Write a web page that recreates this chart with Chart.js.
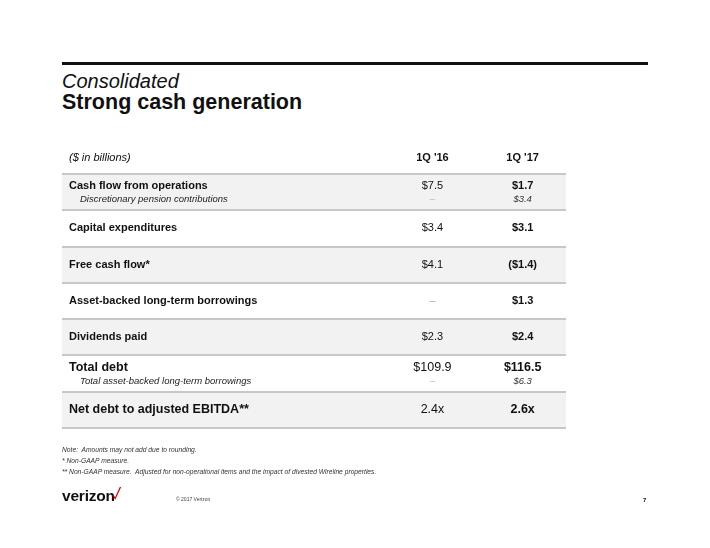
<!DOCTYPE html>
<html>
<head>
<meta charset="utf-8">
<script src="https://cdn.jsdelivr.net/npm/chart.js@4.4.1/dist/chart.umd.min.js"></script>
<style>
  body { margin: 0; background: #fff; font-family: "Liberation Sans", Arial, sans-serif; color: #111; }
  #wrap { position: relative; width: 710px; height: 548px; overflow: hidden; }
  #table { position: absolute; left: 0; top: 0; }
  .t { position: absolute; line-height: 1; white-space: pre; }
  #rule { position: absolute; left: 62px; top: 62px; width: 586px; height: 3px; background: #111; }
</style>
</head>
<body>
<div id="wrap">
  <div id="rule"></div>
  <div class="t" style="left:62px;top:71px;font-size:20px;font-style:italic;">Consolidated</div>
  <div class="t" style="left:62px;top:92px;font-size:21.5px;font-weight:bold;">Strong cash generation</div>
  <canvas id="table" width="710" height="548"></canvas>
  <div class="t" style="left:62px;top:447px;font-size:6.7px;font-style:italic;color:#333;">Note:  Amounts may not add due to rounding.</div>
  <div class="t" style="left:62px;top:458px;font-size:6.7px;font-style:italic;color:#333;">* Non-GAAP measure.</div>
  <div class="t" style="left:62px;top:469px;font-size:6.7px;font-style:italic;color:#333;">** Non-GAAP measure.  Adjusted for non-operational items and the impact of divested Wireline properties.</div>
  <div class="t" style="left:62px;top:488px;font-size:15.5px;font-weight:bold;letter-spacing:-0.2px;">verizon</div>
  <svg style="position:absolute;left:112px;top:486px;" width="10" height="14"><polyline points="1,9 3.2,12.5 8.5,1" fill="none" stroke="#e00000" stroke-width="1.3"/></svg>
  <div class="t" style="left:176px;top:497px;font-size:5px;color:#444;">© 2017 Verizon</div>
  <div class="t" style="left:643px;top:497px;font-size:6px;font-weight:bold;">7</div>
</div>
<script>
// table rows
const rowLabels = ['Cash flow from operations', 'Capital expenditures', 'Free cash flow*',
  'Asset-backed long-term borrowings', 'Dividends paid', 'Total debt', 'Net debt to adjusted EBITDA**'];
const subLabels = ['Discretionary pension contributions', null, null, null, null,
  'Total asset-backed long-term borrowings', null];
const columns = ["1Q '16", "1Q '17"];
const q16 = [7.5, 3.4, 4.1, null, 2.3, 109.9, 2.4];
const q17 = [1.7, 3.1, -1.4, 1.3, 2.4, 116.5, 2.6];
const q16Sub = [null, null, null, null, null, null, null];
const q17Sub = [3.4, null, null, null, null, 6.3, null];
const units = ['$', '$', '$', '$', '$', '$', 'x'];

// layout / style
const colPos = [0.735, 0.914];
const bigRows = [5, 6];
const FONT = '"Liberation Sans", Arial, sans-serif';

function fmt(v, unit) {
    if (v === null) return '–';
    if (unit === 'x') return v.toFixed(1) + 'x';
    if (v < 0) return '($' + Math.abs(v).toFixed(1) + ')';
    return '$' + v.toFixed(1);
}

const tableText = {
    id: 'tableText',
    afterDatasetsDraw(chart) {
        const ctx = chart.ctx;
        const x = chart.scales.x;
        const y = chart.scales.y;
        const area = chart.chartArea;
        const labelX = area.left + 7;
        ctx.save();
        ctx.textBaseline = 'middle';

        // header
        const hy = area.top - 16;
        ctx.fillStyle = '#111';
        ctx.textAlign = 'left';
        ctx.font = 'italic 11px ' + FONT;
        ctx.fillText('($ in billions)', labelX, hy);
        ctx.textAlign = 'center';
        ctx.font = 'bold 11px ' + FONT;
        columns.forEach((c, j) => ctx.fillText(c, x.getPixelForValue(colPos[j]), hy));

        rowLabels.forEach((label, i) => {
            const cy = y.getPixelForValue(i);
            const size = bigRows.includes(i) ? 12.5 : 11;
            const hasSub = subLabels[i] !== null;
            const my = hasSub ? cy - 6 : cy;
            const sy = cy + 7.5;

            ctx.fillStyle = '#111';
            ctx.textAlign = 'left';
            ctx.font = 'bold ' + size + 'px ' + FONT;
            ctx.fillText(label, labelX, my);

            ctx.textAlign = 'center';
            [q16[i], q17[i]].forEach((v, j) => {
                ctx.font = (j === 1 ? 'bold ' : '') + size + 'px ' + FONT;
                ctx.fillStyle = v === null ? '#aaa' : '#111';
                ctx.fillText(fmt(v, units[i]), x.getPixelForValue(colPos[j]), my);
            });

            if (hasSub) {
                ctx.fillStyle = '#222';
                ctx.textAlign = 'left';
                ctx.font = 'italic 9.5px ' + FONT;
                ctx.fillText(subLabels[i], labelX + 11, sy);
                ctx.textAlign = 'center';
                [q16Sub[i], q17Sub[i]].forEach((v, j) => {
                    ctx.fillStyle = v === null ? '#aaa' : '#333';
                    ctx.fillText(fmt(v, units[i]), x.getPixelForValue(colPos[j]), sy);
                });
            }
        });
        ctx.restore();
    }
};

new Chart(document.getElementById('table'), {
    type: 'bar',
    data: {
        labels: rowLabels,
        datasets: [{
            data: rowLabels.map(() => [0, 1]),
            backgroundColor: rowLabels.map((_, i) => i % 2 === 0 ? '#f2f2f2' : '#ffffff'),
            borderWidth: 0,
            barPercentage: 1,
            categoryPercentage: 1
        }]
    },
    options: {
        indexAxis: 'y',
        responsive: false,
        animation: false,
        events: [],
        layout: { padding: { left: 62, right: 144, top: 174, bottom: 120 } },
        plugins: { legend: { display: false }, tooltip: { enabled: false } },
        scales: {
            x: { display: false, min: 0, max: 1 },
            y: {
                ticks: { display: false },
                border: { display: false },
                grid: { z: 1, offset: true, color: '#c8c8c8', lineWidth: 2, drawTicks: false }
            }
        }
    },
    plugins: [tableText]
});
</script>
</body>
</html>
